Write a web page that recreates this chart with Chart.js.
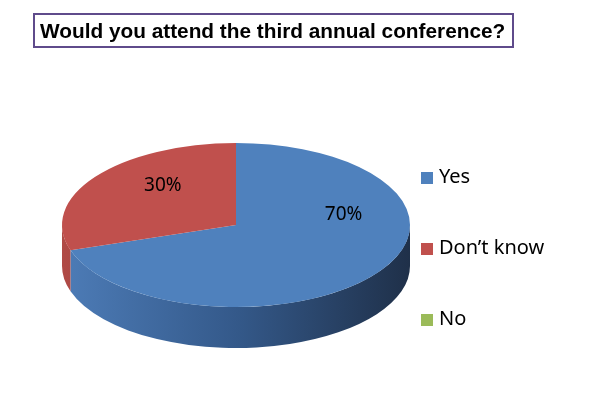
<!DOCTYPE html>
<html>
<head>
<meta charset="utf-8">
<script src="https://cdn.jsdelivr.net/npm/chart.js@4.4.0/dist/chart.umd.min.js"></script>
<style>
  html, body { margin: 0; padding: 0; background: #fff; }
  #wrap { position: relative; width: 602px; height: 404px; overflow: hidden; }
  #chart { position: absolute; left: 0; top: 0; }
  #title {
    position: absolute; left: 33px; top: 13px; width: 472px; height: 31px;
    border: 2px solid #5f4b8b; box-sizing: content-box;
    font: bold 20.8px "Liberation Sans", Arial, sans-serif; color: #000;
    line-height: 31px; padding-left: 5px; white-space: nowrap;
  }
  #legend { position: absolute; left: 421px; top: 0; font: 20px "Noto Sans", sans-serif; color: #000; }
  #legend div { position: absolute; white-space: nowrap; line-height: 20px; }
  #legend span { display: inline-block; width: 12px; height: 12px; margin-right: 6px; vertical-align: -1px; }
</style>
</head>
<body>
<div id="wrap">
  <canvas id="chart" width="602" height="404"></canvas>
  <div id="title">Would you attend the third annual conference?</div>
  <div id="legend"></div>
</div>
<script>
const labels = ['Yes', "Don\u2019t know", 'No'];
const values = [70, 30, 0];
const colors = ['#4f81bd', '#c0504d', '#9bbb59'];
// wall gradient colours (left -> right) per slice
const wallColors = [
  ['#4d7cb7', '#34598a', '#1f3049'],
  ['#b04a46', '#8a3a37', '#5a2624'],
  ['#8fae52', '#6c8540', '#465628']
];

// squash factor and depth for the fake 3d look
const tiltRY = 82;
const depth = 41;

// legend as html
const legendEl = document.getElementById('legend');
labels.forEach((l, i) => {
  const d = document.createElement('div');
  d.style.top = (166 + i * 71) + 'px';
  d.innerHTML = `<span style="background:${colors[i]}"></span>${l}`;
  legendEl.appendChild(d);
});

const pie3d = {
  id: 'pie3d',
  beforeDatasetsDraw(chart) {
    const ctx = chart.ctx;
    const arcs = chart.getDatasetMeta(0).data;
    if (!arcs.length) return;
    const cx = arcs[0].x, cy = arcs[0].y, rx = arcs[0].outerRadius;
    // front walls: only the part of each slice between 0 and PI is visible
    arcs.forEach((arc, i) => {
      let a1 = Math.max(arc.startAngle, 0);
      let a2 = Math.min(arc.endAngle, Math.PI);
      if (a2 <= a1) return;
      const g = ctx.createLinearGradient(cx - rx, 0, cx + rx, 0);
      g.addColorStop(0, wallColors[i][0]);
      g.addColorStop(0.5, wallColors[i][1]);
      g.addColorStop(1, wallColors[i][2]);
      ctx.save();
      ctx.beginPath();
      ctx.ellipse(cx, cy, rx, tiltRY, 0, a1, a2, false);
      ctx.ellipse(cx, cy + depth, rx, tiltRY, 0, a2, a1, true);
      ctx.closePath();
      ctx.fillStyle = g;
      ctx.fill();
      ctx.restore();
    });
    ctx.save();
    ctx.translate(cx, cy);
    ctx.scale(1, tiltRY / rx);
    ctx.translate(-cx, -cy);
  },
  afterDatasetsDraw(chart) {
    const ctx = chart.ctx;
    ctx.restore();
    const arcs = chart.getDatasetMeta(0).data;
    const cx = arcs[0].x, cy = arcs[0].y, rx = arcs[0].outerRadius;
    const total = values.reduce((a, b) => a + b, 0);
    ctx.save();
    ctx.font = '19px "Noto Sans", sans-serif';
    ctx.fillStyle = '#000';
    ctx.textAlign = 'center';
    ctx.textBaseline = 'middle';
    arcs.forEach((arc, i) => {
      if (!values[i]) return;
      let mid = (arc.startAngle + arc.endAngle) / 2;
      // excel pulls the big slice label up toward the right edge
      if (i === 0) mid -= 0.55;
      const r = i === 0 ? 0.62 : 0.52;
      const x = cx + Math.cos(mid) * rx * r;
      const y = cy + Math.sin(mid) * tiltRY * r - 14;
      ctx.fillText(Math.round(values[i] / total * 100) + '%', x, y);
    });
    ctx.restore();
  }
};

new Chart(document.getElementById('chart'), {
  type: 'pie',
  data: {
    labels: labels,
    datasets: [{
      data: values,
      backgroundColor: colors,
      borderWidth: 0,
      hoverOffset: 0,
      offset: 0,
      clip: false
    }]
  },
  options: {
    responsive: false,
    animation: false,
    radius: 174,
    layout: { padding: { left: 62, right: 192, top: 51, bottom: 5 } },
    plugins: {
      legend: { display: false },
      tooltip: { enabled: false },
      title: { display: false }
    }
  },
  plugins: [pie3d]
});
</script>
</body>
</html>
